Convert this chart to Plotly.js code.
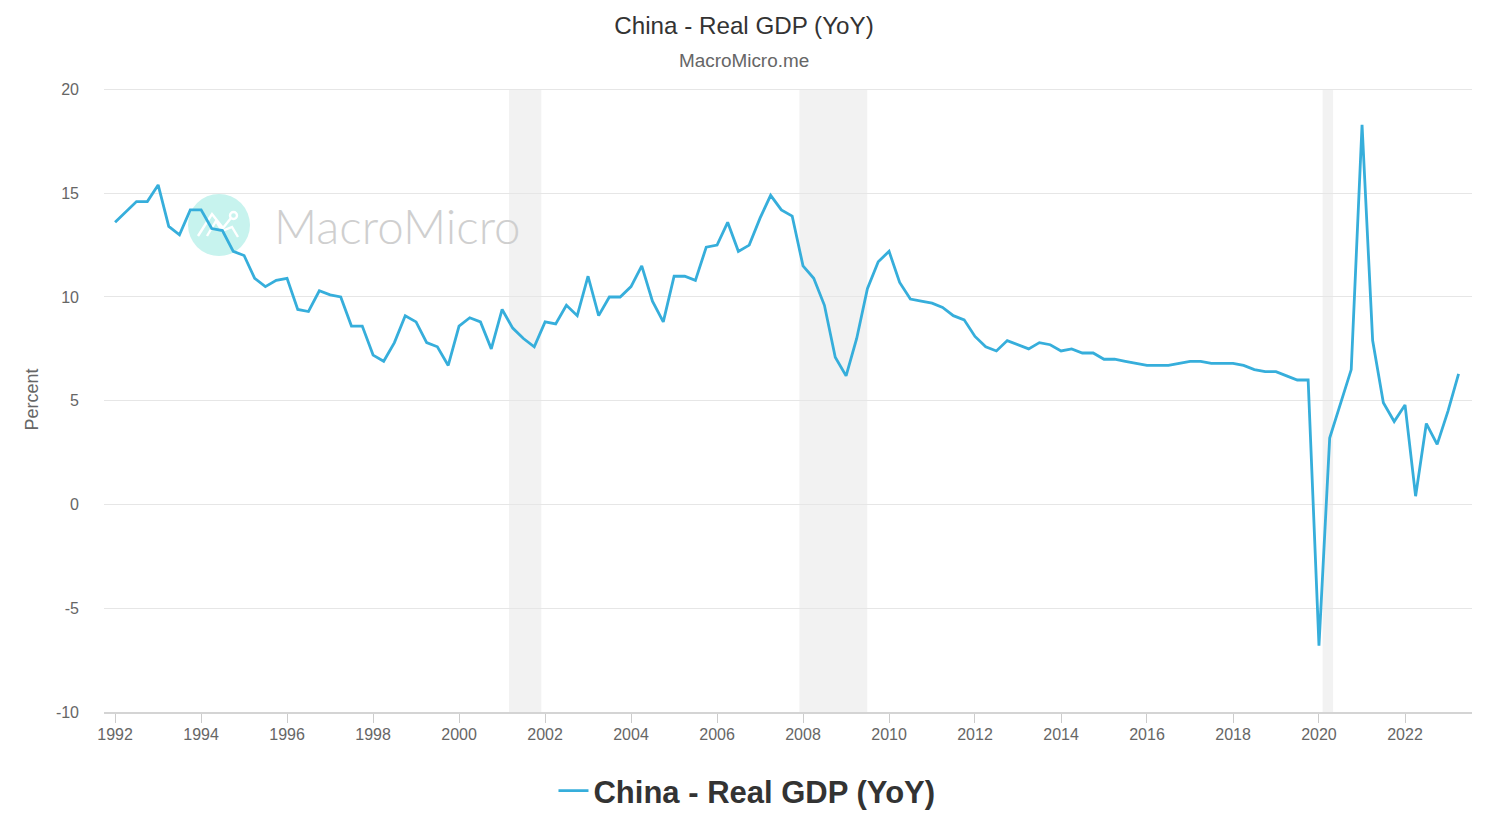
<!DOCTYPE html>
<html>
<head>
<meta charset="utf-8">
<title>China - Real GDP (YoY)</title>
<script src="https://cdn.plot.ly/plotly-3.0.1.min.js"></script>
<style>
  html, body { margin: 0; padding: 0; background: #fff; }
  #chart { width: 1488px; height: 838px; }
</style>
</head>
<body>
<div id="chart"></div>
<script>
  var seriesName = "China - Real GDP (YoY)";
  var chartSubtitle = "MacroMicro.me";
  var yAxisLabel = "Percent";
  var firstYear = 1992;
  var yTickVals = [-10, -5, 0, 5, 10, 15, 20];
  var yTickLabels = ["-10", "-5", "0", "5", "10", "15", "20"];

  // quarterly readings, Q1 1992 -> Q2 2023, one row per year
  var gdpYoY = [
    13.6, 14.1, 14.6, 14.6,
    15.4, 13.4, 13.0, 14.2,
    14.2, 13.3, 13.2, 12.2,
    12.0, 10.9, 10.5, 10.8,
    10.9, 9.4, 9.3, 10.3,
    10.1, 10.0, 8.6, 8.6,
    7.2, 6.9, 7.8, 9.1,
    8.8, 7.8, 7.6, 6.7,
    8.6, 9.0, 8.8, 7.5,
    9.4, 8.5, 8.0, 7.6,
    8.8, 8.7, 9.6, 9.1,
    11.0, 9.1, 10.0, 10.0,
    10.5, 11.5, 9.8, 8.8,
    11.0, 11.0, 10.8, 12.4,
    12.5, 13.6, 12.2, 12.5,
    13.8, 14.9, 14.2, 13.9,
    11.5, 10.9, 9.6, 7.1,
    6.2, 8.0, 10.4, 11.7,
    12.2, 10.7, 9.9, 9.8,
    9.7, 9.5, 9.1, 8.9,
    8.1, 7.6, 7.4, 7.9,
    7.7, 7.5, 7.8, 7.7,
    7.4, 7.5, 7.3, 7.3,
    7.0, 7.0, 6.9, 6.8,
    6.7, 6.7, 6.7, 6.8,
    6.9, 6.9, 6.8, 6.8,
    6.8, 6.7, 6.5, 6.4,
    6.4, 6.2, 6.0, 6.0,
    -6.8, 3.2, 4.9, 6.5,
    18.3, 7.9, 4.9, 4.0,
    4.8, 0.4, 3.9, 2.9,
    4.5, 6.3
  ];

  // grey recession bands
  var bandStarts = ["2001-03-01", "2007-12-01", "2020-02-01"];
  var bandEnds = ["2001-11-30", "2009-06-30", "2020-04-30"];

  var W = 1488, H = 838;
  // top margin leaves room so the 20 gridline isn't clipped at the plot edge
  var M = { l: 104, r: 16, t: 87, b: 126 };
  // watermark sits in fixed page pixels
  function px(x) { return (x - M.l) / (W - M.l - M.r); }
  function py(y) { return 1 - (y - M.t) / (H - M.t - M.b); }
  function pathOf(pts) {
    return pts.map(function (p, i) { return (i ? "L" : "M") + px(p[0]) + "," + py(p[1]); }).join(" ");
  }

  var quarterDates = gdpYoY.map(function (v, i) {
    var yr = firstYear + Math.floor(i / 4), mo = (i % 4) * 3 + 1;
    return yr + "-" + (mo < 10 ? "0" : "") + mo + "-01";
  });

  var shapes = bandStarts.map(function (s, i) {
    return {
      type: "rect", layer: "below", xref: "x", yref: "y",
      x0: s, x1: bandEnds[i], y0: -10, y1: 20,
      fillcolor: "#f2f2f2", line: { width: 0 }
    };
  });
  shapes.push({
    type: "circle", layer: "below", xref: "paper", yref: "paper",
    x0: px(188), x1: px(250), y0: py(256), y1: py(194),
    fillcolor: "#c7f3ee", line: { width: 0 }
  });
  shapes.push({
    type: "path", layer: "below", xref: "paper", yref: "paper",
    path: pathOf([[198, 236], [212, 214], [223, 228], [231, 218]]),
    line: { color: "#ffffff", width: 2.4 }
  });
  shapes.push({
    type: "path", layer: "below", xref: "paper", yref: "paper",
    path: pathOf([[207, 236], [216, 221], [222, 231], [232, 227], [238, 237]]),
    line: { color: "#ffffff", width: 2.4 }
  });
  shapes.push({
    type: "circle", layer: "below", xref: "paper", yref: "paper",
    x0: px(230), x1: px(237), y0: py(219), y1: py(212),
    fillcolor: "#c7f3ee", line: { color: "#ffffff", width: 2.4 }
  });

  var traces = [{
    x: quarterDates, y: gdpYoY, type: "scatter", mode: "lines", name: seriesName,
    line: { color: "#36aedb", width: 2.8 },
    hovertemplate: "%{x|%Y-%m}: %{y}<extra></extra>"
  }];

  var layout = {
    width: W, height: H,
    paper_bgcolor: "#ffffff", plot_bgcolor: "#ffffff",
    font: { family: "Liberation Sans, Arial, sans-serif", color: "#666666", size: 16 },
    margin: M,
    title: {
      text: seriesName, x: 0.5, xref: "container", xanchor: "center",
      y: 1 - 26 / H, yref: "container", yanchor: "middle",
      font: { size: 24.2, color: "#333333" }
    },
    xaxis: {
      type: "date", range: ["1991-09-29", "2023-07-24"],
      tick0: "1992-01-01", dtick: "M24", tickformat: "%Y",
      ticks: "outside", ticklen: 9, tickwidth: 1, tickcolor: "#cccccc", ticklabelstandoff: -2,
      showgrid: false, showline: true, linecolor: "#d4d4d4", linewidth: 1.5,
      zeroline: false, tickfont: { size: 16, color: "#666666" }
    },
    yaxis: {
      range: [-10, 20.12], tickmode: "array", tickvals: yTickVals, ticktext: yTickLabels,
      gridcolor: "#e6e6e6", gridwidth: 1.4, zeroline: false, showline: false,
      ticks: "", ticklabelstandoff: 24, tickfont: { size: 16, color: "#666666" },
      title: { text: yAxisLabel, standoff: 12, font: { size: 18, color: "#666666" } }
    },
    showlegend: true,
    legend: {
      orientation: "h", x: 0.502, xanchor: "center", xref: "container",
      y: 1 - 791 / H, yanchor: "middle", yref: "container",
      font: { size: 31, color: "#333333", weight: "bold" },
      itemwidth: 30, bgcolor: "rgba(0,0,0,0)"
    },
    annotations: [
      {
        text: chartSubtitle, xref: "paper", yref: "paper", x: px(744), y: py(60),
        xanchor: "center", yanchor: "middle", showarrow: false,
        font: { size: 18.9, color: "#666666" }
      },
      {
        text: "MacroMicro", xref: "paper", yref: "paper", x: px(272), y: py(225),
        xanchor: "left", yanchor: "middle", showarrow: false,
        font: { size: 47.5, color: "#cfcfcf", family: "Lato, Liberation Sans, sans-serif", weight: 300 }
      }
    ],
    shapes: shapes
  };

  Plotly.newPlot("chart", traces, layout, { displayModeBar: false, responsive: false });
</script>
</body>
</html>
